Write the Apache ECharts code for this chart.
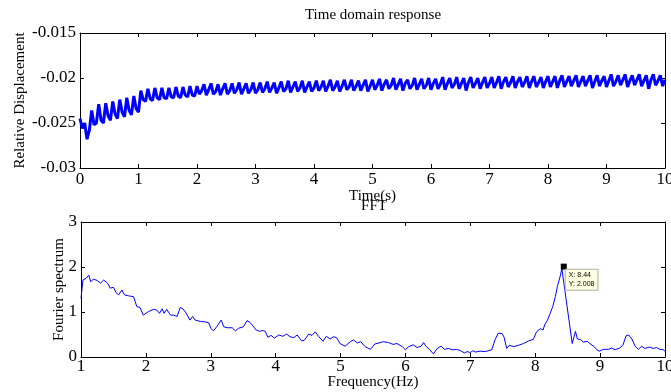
<!DOCTYPE html>
<html>
<head>
<meta charset="utf-8">
<script src="https://cdn.jsdelivr.net/npm/echarts@6/dist/echarts.min.js"></script>
<style>
html,body{margin:0;padding:0;background:#fff;}
#chart{width:671px;height:392px;}
</style>
</head>
<body>
<div id="chart"></div>
<script>
// ---- Time domain response (sampled every 0.04 s from t = 0) ----
const timeStep = 0.04;
const displacement = [
-0.0245,-0.0256,-0.0250,-0.0268,-0.0258,-0.0236,-0.0252,-0.0250,-0.0229,-0.0247,
-0.0250,-0.0228,-0.0242,-0.0247,-0.0226,-0.0240,-0.0245,-0.0224,-0.0238,-0.0243,
-0.0222,-0.0236,-0.0241,-0.0220,-0.0234,-0.0238,-0.0214,-0.0224,-0.0226,-0.0212,
-0.0223,-0.0225,-0.0211,-0.0222,-0.0224,-0.0211,-0.0222,-0.0223,-0.0211,-0.0221,
-0.0222,-0.0210,-0.0220,-0.0222,-0.0210,-0.0219,-0.0221,-0.0209,-0.0219,-0.0220,
-0.0209,
-0.0218,-0.0214,-0.0207,-0.0219,-0.0213,-0.0206,-0.0218,-0.0215,-0.0207,-0.0219,
-0.0212,-0.0206,-0.0218,-0.0214,-0.0206,-0.0217,-0.0213,-0.0205,-0.0218,-0.0212,
-0.0206,-0.0217,-0.0213,-0.0205,-0.0217,
-0.0213,-0.0205,-0.0216,-0.0212,-0.0204,-0.0216,-0.0211,-0.0205,-0.0217,-0.0211,
-0.0204,-0.0215,-0.0212,-0.0203,-0.0216,-0.0210,-0.0204,-0.0215,-0.0211,-0.0203,
-0.0216,-0.0210,-0.0204,-0.0215,-0.0211,
-0.0203,-0.0214,-0.0210,-0.0203,-0.0215,-0.0209,-0.0202,-0.0214,-0.0210,-0.0203,
-0.0215,-0.0209,-0.0202,-0.0213,-0.0210,-0.0202,-0.0214,-0.0209,-0.0203,-0.0214,
-0.0208,-0.0202,-0.0215,-0.0209,-0.0202,
-0.0213,-0.0208,-0.0201,-0.0214,-0.0207,-0.0202,-0.0212,-0.0208,-0.0200,-0.0213,
-0.0207,-0.0201,-0.0214,-0.0206,-0.0202,-0.0212,-0.0208,-0.0200,-0.0213,-0.0207,
-0.0201,-0.0212,-0.0208,-0.0200,-0.0213,
-0.0206,-0.0201,-0.0212,-0.0207,-0.0199,-0.0213,-0.0206,-0.0200,-0.0211,-0.0207,
-0.0199,-0.0212,-0.0206,-0.0200,-0.0214,-0.0205,-0.0199,-0.0211,-0.0206,-0.0200,
-0.0212,-0.0205,-0.0199,-0.0211,-0.0206,
-0.0199,-0.0211,-0.0205,-0.0198,-0.0212,-0.0204,-0.0199,-0.0210,-0.0205,-0.0198,
-0.0211,-0.0204,-0.0199,-0.0210,-0.0205,-0.0198,-0.0211,-0.0204,-0.0198,-0.0210,
-0.0205,-0.0199,-0.0211,-0.0204,-0.0198,
-0.0210,-0.0204,-0.0198,-0.0211,-0.0203,-0.0197,-0.0210,-0.0204,-0.0198,-0.0209,
-0.0203,-0.0197,-0.0210,-0.0204,-0.0198,-0.0209,-0.0203,-0.0197,-0.0211,-0.0204,
-0.0197,-0.0209,-0.0203,-0.0198,-0.0210,
-0.0203,-0.0196,-0.0209,-0.0204,-0.0197,-0.0208,-0.0202,-0.0196,-0.0210,-0.0203,
-0.0197,-0.0208,-0.0202,-0.0196,-0.0209,-0.0203,-0.0197,-0.0212,-0.0202,-0.0196,
-0.0208,-0.0203,-0.0197,-0.0209,-0.0202
];

// ---- FFT ----
const freqHz = [
1.00,1.03,1.08,1.12,1.15,1.19,1.25,1.30,1.35,1.41,1.45,1.50,1.54,1.58,1.63,1.67,1.73,1.81,1.86,1.91,
1.96,1.99,2.04,2.12,2.17,2.21,2.25,2.28,2.32,2.38,2.43,2.48,2.53,2.57,2.61,2.64,2.68,2.72,2.76,2.84,
2.92,2.97,3.00,3.04,3.09,3.12,3.16,3.20,3.26,3.33,3.38,3.43,3.50,3.56,3.61,3.65,3.70,3.75,3.80,3.84,
3.88,3.93,3.98,4.05,4.11,4.17,4.22,4.28,4.33,4.40,4.44,4.51,4.56,4.61,4.66,4.73,4.78,4.84,4.89,4.94,
4.99,5.07,5.15,5.20,5.26,5.31,5.38,5.46,5.53,5.61,5.66,5.74,5.81,5.87,5.95,6.00,6.05,6.12,6.18,6.24,
6.28,6.32,6.37,6.43,6.49,6.55,6.60,6.66,6.73,6.79,6.85,6.91,6.95,7.00,7.04,7.08,7.15,7.23,7.33,7.38,
7.43,7.49,7.52,7.56,7.60,7.67,7.74,7.82,7.90,7.97,8.02,8.08,8.12,8.15,8.19,8.23,8.27,8.31,8.34,8.39,
8.41,8.44,8.57,8.62,8.65,8.70,8.74,8.80,8.86,8.91,8.95,8.99,9.05,9.13,9.18,9.23,9.30,9.35,9.40,9.44,
9.49,9.54,9.59,9.64,9.69,9.76,9.82,9.87,9.92,9.98,10.00
];
const fourierAmp = [
1.30,1.71,1.75,1.82,1.67,1.73,1.70,1.64,1.71,1.64,1.53,1.55,1.43,1.38,1.49,1.38,1.36,1.34,1.12,1.10,
0.93,0.90,1.01,1.06,1.04,0.97,1.07,0.97,1.06,0.93,0.93,0.90,1.10,1.07,1.00,0.98,0.82,0.90,0.82,0.79,
0.78,0.76,0.64,0.58,0.67,0.69,0.82,0.67,0.65,0.65,0.58,0.64,0.67,0.81,0.76,0.69,0.60,0.57,0.59,0.57,
0.44,0.48,0.42,0.49,0.46,0.51,0.45,0.43,0.49,0.36,0.37,0.51,0.48,0.56,0.46,0.35,0.46,0.40,0.45,0.43,
0.30,0.24,0.34,0.38,0.31,0.34,0.23,0.17,0.29,0.32,0.34,0.32,0.28,0.30,0.23,0.16,0.23,0.27,0.21,0.24,
0.32,0.23,0.17,0.07,0.19,0.24,0.17,0.19,0.16,0.17,0.14,0.09,0.12,0.10,0.14,0.11,0.13,0.12,0.16,0.38,
0.53,0.52,0.44,0.19,0.26,0.23,0.26,0.30,0.36,0.39,0.56,0.63,0.60,0.73,0.82,0.97,1.12,1.34,1.56,1.82,
1.97,2.008,0.30,0.57,0.40,0.39,0.33,0.35,0.28,0.23,0.16,0.13,0.17,0.17,0.20,0.16,0.20,0.26,0.47,0.49,
0.40,0.24,0.17,0.24,0.19,0.22,0.19,0.21,0.17,0.16,0.12
];

const SERIF = "'Liberation Serif', 'Times New Roman', serif";
const timeData = displacement.map((v, i) => [+(i * timeStep).toFixed(2), v]);
const fftData = freqHz.map((f, i) => [f, fourierAmp[i]]);
let peakIdx = 0;
fourierAmp.forEach((v, i) => { if (v > fourierAmp[peakIdx]) peakIdx = i; });
const peakF = freqHz[peakIdx], peakA = fourierAmp[peakIdx];

function axisBase(showLabel, labelMargin) {
  return {
    type: 'value',
    nameMoveOverlap: false,
    axisLine: { show: true, onZero: false, lineStyle: { color: '#000', width: 1 } },
    axisTick: { show: true, inside: true, length: 4, lineStyle: { color: '#000', width: 1 } },
    splitLine: { show: false },
    axisLabel: { show: showLabel, color: '#000', fontFamily: SERIF, fontSize: 17, margin: labelMargin,
                 showMinLabel: true, showMaxLabel: true, hideOverlap: false },
    nameTextStyle: { color: '#000', fontFamily: SERIF, fontSize: 15 }
  };
}

const chart = echarts.init(document.getElementById('chart'), null, { renderer: 'canvas' });
chart.setOption({
  animation: false,
  backgroundColor: '#fff',
  title: [
    { text: 'Time domain response', left: 373, top: 8, padding: 0, textAlign: 'center',
      textStyle: { fontFamily: SERIF, fontSize: 15, fontWeight: 'normal', color: '#000' } },
    { text: 'FFT', left: 374, top: 199, padding: 0, textAlign: 'center',
      textStyle: { fontFamily: SERIF, fontSize: 15, fontWeight: 'normal', color: '#000' } }
  ],
  grid: [
    { left: 80, top: 33, width: 585, height: 135, containLabel: false, outerBoundsMode: 'none' },
    { left: 81, top: 222, width: 584, height: 135, containLabel: false, outerBoundsMode: 'none' }
  ],
  xAxis: [
    Object.assign(axisBase(true, 3), { gridIndex: 0, position: 'bottom', min: 0, max: 10, interval: 1,
      name: 'Time(s)', nameLocation: 'middle', nameGap: 21 }),
    Object.assign(axisBase(false, 3), { gridIndex: 0, position: 'top', min: 0, max: 10, interval: 1 }),
    Object.assign(axisBase(true, 1), { gridIndex: 1, position: 'bottom', min: 1, max: 10, interval: 1,
      name: 'Frequency(Hz)', nameLocation: 'middle', nameGap: 18 }),
    Object.assign(axisBase(false, 1), { gridIndex: 1, position: 'top', min: 1, max: 10, interval: 1 })
  ],
  yAxis: [
    Object.assign(axisBase(true, 4), { gridIndex: 0, position: 'left', min: -0.03, max: -0.015, interval: 0.005,
      name: 'Relative Displacement', nameLocation: 'middle', nameGap: 52 }),
    Object.assign(axisBase(false, 4), { gridIndex: 0, position: 'right', min: -0.03, max: -0.015, interval: 0.005 }),
    Object.assign(axisBase(true, 4), { gridIndex: 1, position: 'left', min: 0, max: 3, interval: 1,
      name: 'Fourier spectrum', nameLocation: 'middle', nameGap: 14 }),
    Object.assign(axisBase(false, 4), { gridIndex: 1, position: 'right', min: 0, max: 3, interval: 1 })
  ],
  series: [
    { type: 'line', xAxisIndex: 0, yAxisIndex: 0, data: timeData, showSymbol: false, symbol: 'none',
      lineStyle: { color: '#0000ff', width: 3 }, silent: true },
    { type: 'line', xAxisIndex: 2, yAxisIndex: 2, data: fftData, showSymbol: false, symbol: 'none',
      lineStyle: { color: '#0000ff', width: 1 }, silent: true,
      markPoint: {
        symbol: 'rect', symbolSize: 6, itemStyle: { color: '#000' },
        data: [{ coord: [peakF, peakA] }],
        label: {
          show: true, position: [5, 6], align: 'left', verticalAlign: 'top',
          formatter: 'X: ' + peakF + '\nY: ' + peakA,
          fontFamily: 'Liberation Sans', fontSize: 7, lineHeight: 9, color: '#000',
          backgroundColor: '#ffffe1', borderColor: '#b0b0a0', borderWidth: 1, padding: [1, 3, 1, 3]
        }
      } }
  ]
});
</script>
</body>
</html>
